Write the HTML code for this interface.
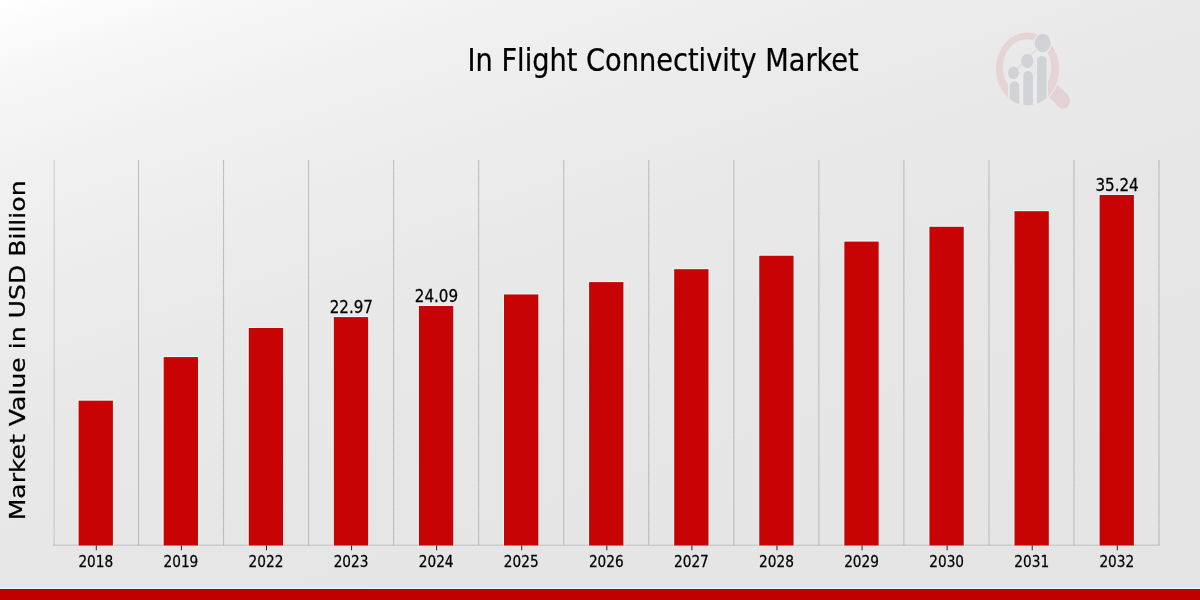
<!DOCTYPE html>
<html lang="en"><head><meta charset="utf-8"><title>In Flight Connectivity Market</title>
<style>
html,body{margin:0;padding:0;}
body{width:1200px;height:600px;overflow:hidden;background:#e6e6e6;}
svg{display:block;}
text{font-family:"DejaVu Sans Condensed","DejaVu Sans","Liberation Sans",sans-serif;fill:#000;stroke:#000;stroke-width:0.25px;}
.yl{font-family:"DejaVu Sans","Liberation Sans",sans-serif;font-stretch:normal;stroke-width:0.3px;}
</style></head><body>
<svg width="1200" height="600" viewBox="0 0 1200 600">
<defs>
<linearGradient id="bg" gradientUnits="userSpaceOnUse" x1="0" y1="0" x2="300" y2="900">
<stop offset="0.0000" stop-color="#ffffff"/>
<stop offset="0.0333" stop-color="#fbfbfb"/>
<stop offset="0.1000" stop-color="#f5f5f5"/>
<stop offset="0.2000" stop-color="#f0f0f0"/>
<stop offset="0.3000" stop-color="#ececec"/>
<stop offset="0.4000" stop-color="#e9e9e9"/>
<stop offset="0.6000" stop-color="#e6e6e6"/>
<stop offset="1.0000" stop-color="#e4e4e4"/>
</linearGradient>
</defs>
<rect x="0" y="0" width="1200" height="600" fill="url(#bg)"/>

<g stroke="#a0a0a0" stroke-width="1" stroke-dasharray="1.3 0.7" fill="none">
<line x1="54.20" y1="160.2" x2="54.20" y2="545.5" stroke="#b2b2b2"/>
<line x1="138.54" y1="160.2" x2="138.54" y2="545.5"/>
<line x1="223.58" y1="160.2" x2="223.58" y2="545.5"/>
<line x1="308.62" y1="160.2" x2="308.62" y2="545.5"/>
<line x1="393.66" y1="160.2" x2="393.66" y2="545.5"/>
<line x1="478.70" y1="160.2" x2="478.70" y2="545.5"/>
<line x1="563.74" y1="160.2" x2="563.74" y2="545.5"/>
<line x1="648.78" y1="160.2" x2="648.78" y2="545.5"/>
<line x1="733.82" y1="160.2" x2="733.82" y2="545.5"/>
<line x1="818.86" y1="160.2" x2="818.86" y2="545.5"/>
<line x1="903.90" y1="160.2" x2="903.90" y2="545.5"/>
<line x1="988.94" y1="160.2" x2="988.94" y2="545.5"/>
<line x1="1073.98" y1="160.2" x2="1073.98" y2="545.5"/>
<line x1="1159.02" y1="160.2" x2="1159.02" y2="545.5"/>
<line x1="53.50" y1="545.2" x2="1159.02" y2="545.2" stroke="#bebebe" stroke-dasharray="none"/>
</g>
<g fill="#f0ffff" opacity="0.6">
<rect x="77.50" y="399.50" width="36.50" height="146.00"/>
<rect x="162.58" y="355.90" width="36.50" height="189.60"/>
<rect x="247.67" y="326.80" width="36.50" height="218.70"/>
<rect x="332.75" y="315.90" width="36.50" height="229.60"/>
<rect x="417.83" y="304.80" width="36.50" height="240.70"/>
<rect x="502.91" y="293.25" width="36.50" height="252.25"/>
<rect x="588.00" y="280.90" width="36.50" height="264.60"/>
<rect x="673.08" y="268.00" width="36.50" height="277.50"/>
<rect x="758.16" y="254.55" width="36.50" height="290.95"/>
<rect x="843.25" y="240.40" width="36.50" height="305.10"/>
<rect x="928.33" y="225.60" width="36.50" height="319.90"/>
<rect x="1013.41" y="210.00" width="36.50" height="335.50"/>
<rect x="1098.50" y="193.80" width="36.50" height="351.70"/>
<rect x="0" y="587.8" width="1200" height="2"/>
</g>
<g fill="#c70303">
<rect x="78.60" y="400.70" width="34.30" height="144.80"/>
<rect x="163.68" y="357.10" width="34.30" height="188.40"/>
<rect x="248.77" y="328.00" width="34.30" height="217.50"/>
<rect x="333.85" y="317.10" width="34.30" height="228.40"/>
<rect x="418.93" y="306.00" width="34.30" height="239.50"/>
<rect x="504.01" y="294.45" width="34.30" height="251.05"/>
<rect x="589.10" y="282.10" width="34.30" height="263.40"/>
<rect x="674.18" y="269.20" width="34.30" height="276.30"/>
<rect x="759.26" y="255.75" width="34.30" height="289.75"/>
<rect x="844.35" y="241.60" width="34.30" height="303.90"/>
<rect x="929.43" y="226.80" width="34.30" height="318.70"/>
<rect x="1014.51" y="211.20" width="34.30" height="334.30"/>
<rect x="1099.60" y="195.00" width="34.30" height="350.50"/>
</g>
<g stroke="#262626" stroke-width="1">
<line x1="96.30" y1="545.5" x2="96.30" y2="550.3"/>
<line x1="181.38" y1="545.5" x2="181.38" y2="550.3"/>
<line x1="266.47" y1="545.5" x2="266.47" y2="550.3"/>
<line x1="351.55" y1="545.5" x2="351.55" y2="550.3"/>
<line x1="436.63" y1="545.5" x2="436.63" y2="550.3"/>
<line x1="521.71" y1="545.5" x2="521.71" y2="550.3"/>
<line x1="606.80" y1="545.5" x2="606.80" y2="550.3"/>
<line x1="691.88" y1="545.5" x2="691.88" y2="550.3"/>
<line x1="776.96" y1="545.5" x2="776.96" y2="550.3"/>
<line x1="862.05" y1="545.5" x2="862.05" y2="550.3"/>
<line x1="947.13" y1="545.5" x2="947.13" y2="550.3"/>
<line x1="1032.21" y1="545.5" x2="1032.21" y2="550.3"/>
<line x1="1117.30" y1="545.5" x2="1117.30" y2="550.3"/>
</g>
<g font-size="16" text-anchor="middle">
<text transform="translate(95.80,567.3) scale(0.95,1)">2018</text>
<text transform="translate(180.88,567.3) scale(0.95,1)">2019</text>
<text transform="translate(265.97,567.3) scale(0.95,1)">2022</text>
<text transform="translate(351.05,567.3) scale(0.95,1)">2023</text>
<text transform="translate(436.13,567.3) scale(0.95,1)">2024</text>
<text transform="translate(521.21,567.3) scale(0.95,1)">2025</text>
<text transform="translate(606.30,567.3) scale(0.95,1)">2026</text>
<text transform="translate(691.38,567.3) scale(0.95,1)">2027</text>
<text transform="translate(776.46,567.3) scale(0.95,1)">2028</text>
<text transform="translate(861.55,567.3) scale(0.95,1)">2029</text>
<text transform="translate(946.63,567.3) scale(0.95,1)">2030</text>
<text transform="translate(1031.71,567.3) scale(0.95,1)">2031</text>
<text transform="translate(1116.80,567.3) scale(0.95,1)">2032</text>
</g>
<g font-size="17.7" text-anchor="middle">
<text transform="translate(351.35,313.30) scale(0.95,1)">22.97</text>
<text transform="translate(436.43,302.20) scale(0.95,1)">24.09</text>
<text transform="translate(1117.10,191.20) scale(0.95,1)">35.24</text>
</g>
<text transform="translate(663.1,70.5) scale(0.94,1)" font-size="32.2" text-anchor="middle">In Flight Connectivity Market</text>
<text class="yl" transform="translate(25.4,350.4) scale(0.875,1) rotate(-90)" font-size="25.1" text-anchor="middle">Market Value in USD Billion</text>
<g transform="translate(1027.5,68.9) scale(0.87,1)">
<clipPath id="lc"><circle cx="0" cy="0" r="36.4"/></clipPath>
<mask id="lm" maskUnits="userSpaceOnUse" x="-60" y="-60" width="130" height="130"><rect x="-60" y="-60" width="130" height="130" fill="#fff"/><circle cx="0" cy="0" r="37.8" fill="#000"/></mask>
<g mask="url(#lm)"><line x1="25.8" y1="18.75" x2="40.9" y2="31.85" stroke="#e3d2d3" stroke-width="15.7" stroke-linecap="round"/></g>
<path fill="#e6d4d5" fill-rule="evenodd" d="M-36.4 0A36.4 36.4 0 1 0 36.4 0A36.4 36.4 0 1 0 -36.4 0ZM-28.4 -1.7A27.9 27.9 0 1 0 27.4 -1.7A27.9 27.9 0 1 0 -28.4 -1.7Z"/>
<g clip-path="url(#lc)">
<rect x="-21.8" y="6" width="45.1" height="40" fill="#ebebeb"/>
<g fill="none" stroke="#ebebeb" stroke-width="3">
<rect x="-20.5" y="12.3" width="11" height="40" rx="5.5"/>
<rect x="-4.8" y="1.8" width="11" height="50" rx="5.5"/>
<rect x="11" y="-13.2" width="11" height="60" rx="5.5"/>
</g>
<g fill="#d1d2d6">
<rect x="-20.5" y="12.3" width="11" height="40" rx="5.5"/>
<rect x="-4.8" y="1.8" width="11" height="50" rx="5.5"/>
<rect x="11" y="-13.2" width="11" height="60" rx="5.5"/>
</g>
</g>
<line x1="-16.1" y1="3.8" x2="17.5" y2="-25.9" stroke="#d6d7da" stroke-width="1.1"/>
<circle cx="17.5" cy="-25.9" r="10.6" fill="#ebebeb"/>
<g fill="#d1d2d6">
<circle cx="-16.1" cy="3.8" r="6.3"/>
<circle cx="-0.3" cy="-7.9" r="6.9"/>
<circle cx="17.5" cy="-25.9" r="9.2"/>
</g>
</g>
<rect x="0" y="589" width="1200" height="11" fill="#c00000"/>
</svg></body></html>
